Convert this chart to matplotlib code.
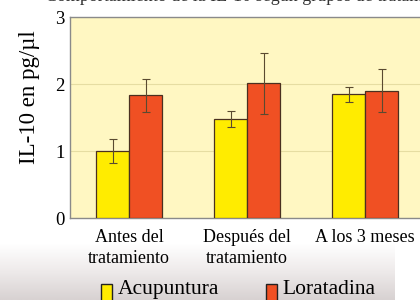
import numpy as np
import matplotlib.pyplot as plt
from matplotlib.colors import LinearSegmentedColormap

plt.rcParams['font.family'] = ['Liberation Serif', 'DejaVu Serif']

# data
groups = ["Antes del\ntratamiento", "Después del\ntratamiento", "A los 3 meses"]
acupuntura = [1.00, 1.48, 1.85]
acupuntura_err = [0.18, 0.12, 0.11]
loratadina = [1.83, 2.01, 1.90]
loratadina_err = [0.25, 0.45, 0.32]
yticks = [0, 1, 2, 3]

yellow = "#FFEC00"
red = "#F05023"
edge = "#4a3020"

fig = plt.figure(figsize=(4.2, 3.0), dpi=100)

# blurred photo strip under the chart
bg = fig.add_axes([0, 0, 0.94, 0.19], zorder=-5)
fade = LinearSegmentedColormap.from_list("fade", ["#ffffff", "#eeeaea", "#d8d2d2"])
grad = np.linspace(0, 1, 50)[:, None] * np.ones((1, 10))
bg.imshow(grad, aspect='auto', cmap=fade, extent=[0, 1, 0, 1], origin='upper')
bg.axis('off')

ax = fig.add_axes([0.167, 0.273, 0.843, 0.67])
ax.set_facecolor("#FFF7C2")
x = np.arange(len(groups))
w = 0.28
ax.bar(x - w / 2, acupuntura, w, color=yellow, edgecolor=edge, linewidth=0.9,
       yerr=acupuntura_err, capsize=3,
       error_kw=dict(ecolor="#5a4a30", elinewidth=0.8, capthick=0.8), zorder=3)
ax.bar(x + w / 2, loratadina, w, color=red, edgecolor=edge, linewidth=0.9,
       yerr=loratadina_err, capsize=3,
       error_kw=dict(ecolor="#5a4a30", elinewidth=0.8, capthick=0.8), zorder=3)

ax.set_xlim(-0.5, 2.5)
ax.set_ylim(0, 3)
ax.set_yticks(yticks)
ax.set_xticks(x)
ax.set_xticklabels(groups, fontsize=13, linespacing=1.3)
ax.tick_params(axis='y', length=0, labelsize=13.5, pad=4)
ax.tick_params(axis='x', length=0, pad=8)
ax.grid(axis='y', color="#E6DDA2", linewidth=0.8, zorder=0)
for s in ax.spines.values():
    s.set_color("#8a8a8a")
    s.set_linewidth(1.0)
ax.set_ylabel("IL-10 en pg/µl", fontsize=16.5)
ax.yaxis.set_label_coords(-0.085, 0.6)

fig.text(0.60, 1.012, "Comportamiento de la IL-10 según grupos de tratamiento",
         ha='center', va='center', fontsize=13, color="#333333")

# legend drawn by hand in figure coordinates
fig.patches.append(plt.Rectangle((0.241, -0.01), 0.026, 0.065, transform=fig.transFigure,
                                 facecolor=yellow, edgecolor="#222222", linewidth=1))
fig.text(0.28, 0.035, "Acupuntura", fontsize=15.5, va='center')
fig.patches.append(plt.Rectangle((0.634, -0.01), 0.026, 0.065, transform=fig.transFigure,
                                 facecolor=red, edgecolor="#222222", linewidth=1))
fig.text(0.673, 0.035, "Loratadina", fontsize=15.5, va='center')

fig.savefig("out.png", dpi=100)
